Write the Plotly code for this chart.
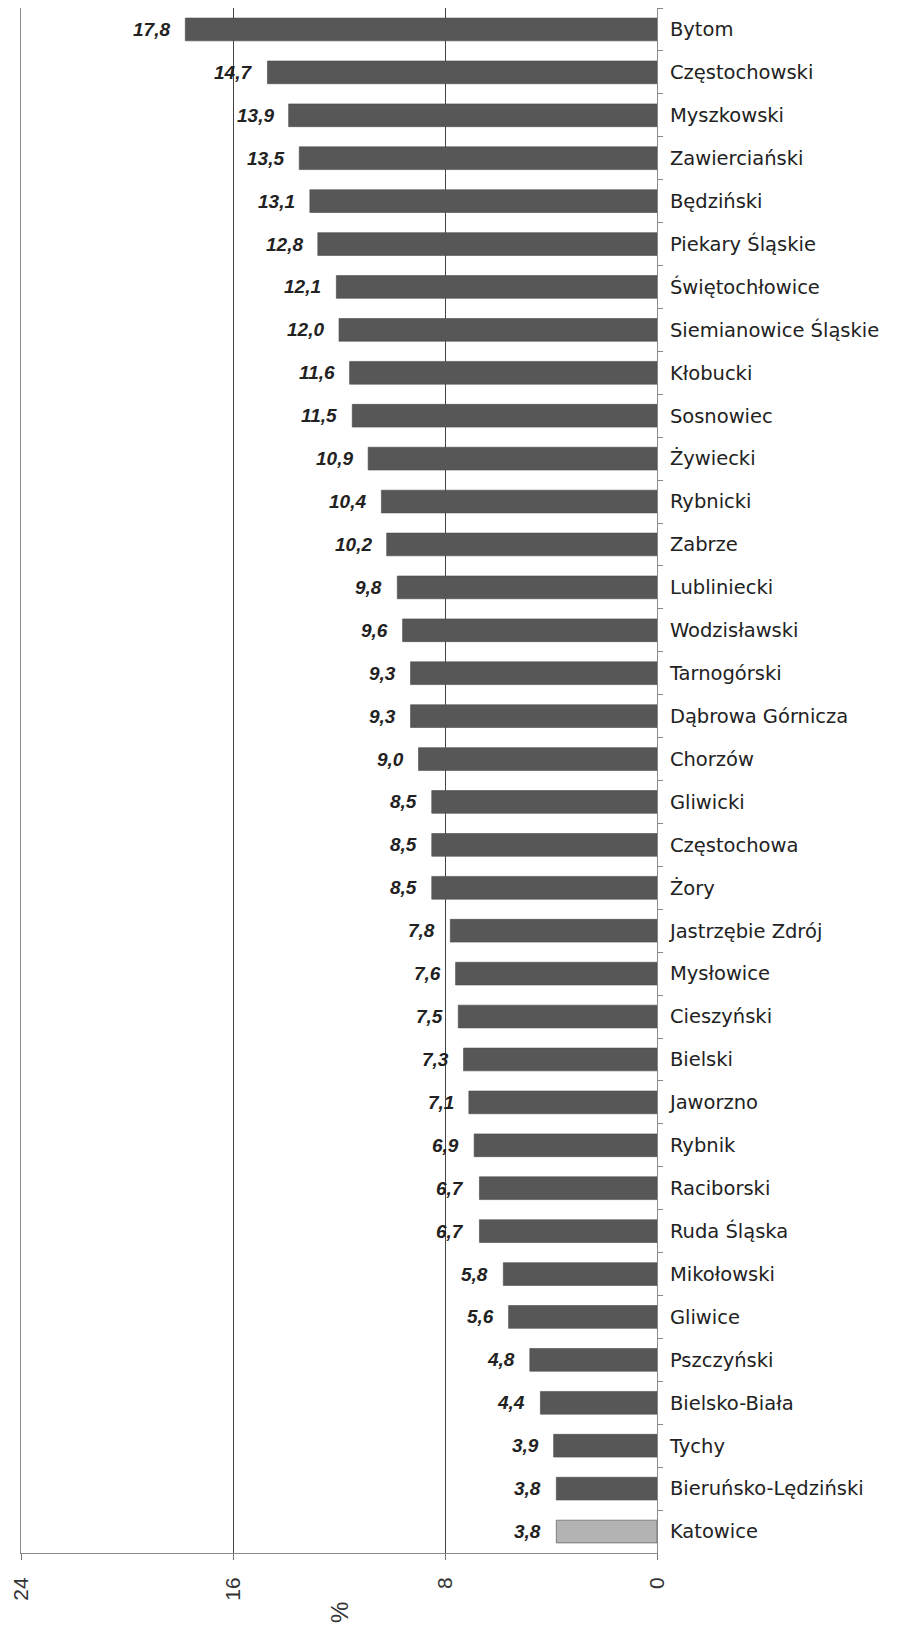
import plotly.graph_objects as go

categories = [
    "Bytom", "Częstochowski", "Myszkowski", "Zawierciański", "Będziński",
    "Piekary Śląskie", "Świętochłowice", "Siemianowice Śląskie", "Kłobucki",
    "Sosnowiec", "Żywiecki", "Rybnicki", "Zabrze", "Lubliniecki",
    "Wodzisławski", "Tarnogórski", "Dąbrowa Górnicza", "Chorzów", "Gliwicki",
    "Częstochowa", "Żory", "Jastrzębie Zdrój", "Mysłowice", "Cieszyński",
    "Bielski", "Jaworzno", "Rybnik", "Raciborski", "Ruda Śląska",
    "Mikołowski", "Gliwice", "Pszczyński", "Bielsko-Biała", "Tychy",
    "Bieruńsko-Lędziński", "Katowice",
]
values = [
    17.8, 14.7, 13.9, 13.5, 13.1, 12.8, 12.1, 12.0, 11.6, 11.5, 10.9, 10.4,
    10.2, 9.8, 9.6, 9.3, 9.3, 9.0, 8.5, 8.5, 8.5, 7.8, 7.6, 7.5, 7.3, 7.1,
    6.9, 6.7, 6.7, 5.8, 5.6, 4.8, 4.4, 3.9, 3.8, 3.8,
]
highlight = "Katowice"
tick_values = [24, 16, 8, 0]
axis_title = "%"

DARK = "#575757"
LIGHT = "#b3b3b3"
colors = [LIGHT if c == highlight else DARK for c in categories]

fig = go.Figure()
fig.add_trace(go.Bar(
    x=values,
    y=categories,
    orientation="h",
    marker=dict(color=colors, line=dict(color="#4a4a4a", width=0.6)),
    hoverinfo="skip",
))

for c, v in zip(categories, values):
    fig.add_annotation(
        x=v, y=c, xref="x", yref="y",
        text="<b><i>" + f"{v:.1f}".replace(".", ",") + "</i></b>",
        showarrow=False, xanchor="right", yanchor="middle",
        xshift=-13,
        font=dict(family="Liberation Sans, Arial", size=19, color="#222222"),
    )

fig.add_annotation(
    x=0.5, y=0, xref="paper", yref="paper",
    text=axis_title, textangle=-90, showarrow=False,
    xanchor="center", yanchor="middle", yshift=-60,
    font=dict(family="Liberation Sans, Arial", size=24, color="#333333"),
)

# page body adds an 8px offset; figure is sized so the plot lands where the reference has it
fig.update_layout(
    width=894, height=1623,
    margin=dict(l=13, r=245, t=0, b=78, autoexpand=False),
    paper_bgcolor="white", plot_bgcolor="white",
    showlegend=False,
    bargap=0.47,
    font=dict(family="Liberation Sans, Arial", color="#222222"),
)

fig.update_xaxes(
    range=[24, 0],
    tickvals=tick_values,
    ticktext=[str(t) for t in tick_values],
    tickangle=-90,
    ticks="outside", ticklen=6, tickcolor="#777777",
    ticklabelstandoff=9,
    tickfont=dict(family="Liberation Sans, Arial", size=21, color="#333333"),
    showgrid=True, gridcolor="#444444", gridwidth=1,
    showline=True, linecolor="#8a8a8a", linewidth=1, mirror=True,
    zeroline=False, fixedrange=True, automargin=False,
)

fig.update_yaxes(
    side="right",
    autorange="reversed",
    type="category",
    tickson="boundaries",
    ticks="outside", ticklen=5, tickcolor="#8a8a8a",
    ticklabelstandoff=8,
    tickfont=dict(family="DejaVu Sans", size=19.5, color="#222222"),
    showgrid=False,
    showline=True, linecolor="#8a8a8a", linewidth=1, mirror=True,
    fixedrange=True, automargin=False,
)

fig.write_html("out.html")
